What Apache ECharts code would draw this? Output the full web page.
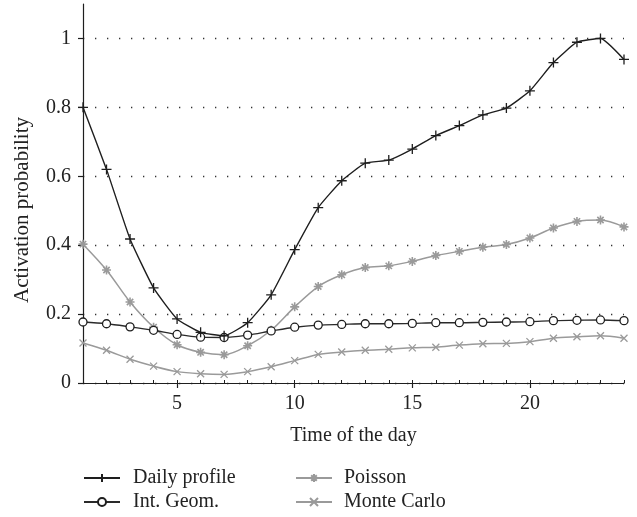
<!DOCTYPE html>
<html>
<head>
<meta charset="utf-8">
<script src="https://cdn.jsdelivr.net/npm/echarts@6/dist/echarts.min.js"></script>
<style>html,body{margin:0;padding:0;background:#fff}#c{width:637px;height:517px}</style>
</head>
<body>
<div id="c"></div>
<script>
var hours = [1,2,3,4,5,6,7,8,9,10,11,12,13,14,15,16,17,18,19,20,21,22,23,24];
var dailyProfile = [0.80,0.62,0.418,0.276,0.186,0.147,0.137,0.175,0.256,0.387,0.509,0.587,0.638,0.647,0.679,0.718,0.747,0.778,0.798,0.848,0.930,0.989,1.000,0.939];
var intGeom = [0.177,0.172,0.163,0.153,0.141,0.133,0.132,0.139,0.151,0.162,0.168,0.170,0.172,0.172,0.173,0.175,0.175,0.176,0.177,0.178,0.181,0.182,0.183,0.181];
var poisson = [0.403,0.328,0.235,0.162,0.111,0.089,0.082,0.108,0.153,0.221,0.280,0.314,0.335,0.340,0.353,0.370,0.382,0.394,0.402,0.421,0.450,0.469,0.473,0.453];
var monteCarlo = [0.116,0.095,0.069,0.049,0.033,0.027,0.025,0.033,0.047,0.065,0.083,0.090,0.095,0.098,0.102,0.104,0.110,0.114,0.115,0.120,0.130,0.134,0.137,0.130];
var yTicks = [0,0.2,0.4,0.6,0.8,1];
var xLabels = [5,10,15,20];

function pairs(v){ return hours.map(function(h,i){ return [h, v[i]]; }); }

var FONT = '"Liberation Serif", "DejaVu Serif", serif';
var PLUS = 'path://M0,5 L10,5 M5,0 L5,10';
var CROSS = 'path://M1.5,1.5 L8.5,8.5 M8.5,1.5 L1.5,8.5';
var STAR = 'path://M0,5 L10,5 M5,0 L5,10 M1.5,1.5 L8.5,8.5 M8.5,1.5 L1.5,8.5';
var BLACK = '#1e1e1e';
var GRAY = '#9a9a9a';
var FS = 20;

var chart = echarts.init(document.getElementById('c'), null, {renderer:'canvas'});
chart.setOption({
  backgroundColor: '#fff',
  animation: false,
  textStyle: {fontFamily: FONT},
  grid: {left: 83, right: 13, top: 4, bottom: 134, containLabel: false},
  graphic: [{
    type: 'text', x: 22, y: 210, rotation: Math.PI / 2,
    style: {text: 'Activation probability', font: '21px ' + FONT, fill: '#222',
      align: 'center', verticalAlign: 'middle'}
  }],
  xAxis: [{
    type: 'value', min: 1, max: 24,
    name: 'Time of the day', nameLocation: 'middle', nameGap: 43,
    nameTextStyle: {fontFamily: FONT, fontSize: FS, color: '#222'},
    axisLine: {show: true, lineStyle: {color: BLACK, width: 1.2}},
    axisTick: {show: true, inside: false, length: 5, customValues: xLabels, lineStyle: {color: BLACK, width: 1.2}},
    axisLabel: {customValues: xLabels, fontFamily: FONT, fontSize: FS, color: '#222', margin: 11},
    splitLine: {show: false}
  },{
    type: 'value', min: 1, max: 24, position: 'bottom',
    axisLine: {show: false},
    axisTick: {show: true, inside: true, length: 3, customValues: hours, lineStyle: {color: BLACK, width: 1}},
    axisLabel: {show: false},
    splitLine: {show: false}
  }],
  yAxis: {
    type: 'value', min: 0, max: 1.1,
    axisLine: {show: true, lineStyle: {color: BLACK, width: 1.2}},
    axisTick: {show: true, inside: false, length: 5, customValues: yTicks, lineStyle: {color: BLACK, width: 1.2}},
    axisLabel: {customValues: yTicks, fontFamily: FONT, fontSize: FS, color: '#222', margin: 12,
      formatter: function(v){ return String(+v.toFixed(1)); }},
    splitLine: {show: true, lineStyle: {color: '#333', width: 1.3, type: [1.3, 10.7]}}
  },
  legend: [{
    left: 83, top: 468, orient: 'vertical', itemGap: 4, itemWidth: 36, itemHeight: 10,
    padding: 0, height: 60,
    textStyle: {fontFamily: FONT, fontSize: FS, lineHeight: 20, color: '#222', padding: [0,0,0,8]},
    data: ['Daily profile', 'Int. Geom.']
  },{
    left: 295, top: 468, orient: 'vertical', itemGap: 4, itemWidth: 36, itemHeight: 10,
    padding: 0, height: 60,
    textStyle: {fontFamily: FONT, fontSize: FS, lineHeight: 20, color: '#222', padding: [0,0,0,7]},
    data: ['Poisson', 'Monte Carlo']
  }],
  series: [{
    name: 'Monte Carlo', type: 'line', data: pairs(monteCarlo), smooth: 0.3,
    symbol: CROSS, symbolSize: 7, z: 2,
    lineStyle: {color: GRAY, width: 1.5},
    itemStyle: {color: 'rgba(0,0,0,0)', borderColor: GRAY, borderWidth: 1.3}
  },{
    name: 'Poisson', type: 'line', data: pairs(poisson), smooth: 0.3,
    symbol: STAR, symbolSize: 9, z: 3,
    lineStyle: {color: GRAY, width: 1.5},
    itemStyle: {color: 'rgba(0,0,0,0)', borderColor: GRAY, borderWidth: 1.6}
  },{
    name: 'Int. Geom.', type: 'line', data: pairs(intGeom), smooth: 0.3,
    symbol: 'circle', symbolSize: 8, z: 4,
    lineStyle: {color: '#2a2a2a', width: 1.4},
    itemStyle: {color: '#fff', borderColor: BLACK, borderWidth: 1.3}
  },{
    name: 'Daily profile', type: 'line', data: pairs(dailyProfile), smooth: 0.15,
    symbol: PLUS, symbolSize: 10, z: 5,
    lineStyle: {color: BLACK, width: 1.4},
    itemStyle: {color: 'rgba(0,0,0,0)', borderColor: BLACK, borderWidth: 1.3}
  }]
});
</script>
</body>
</html>
